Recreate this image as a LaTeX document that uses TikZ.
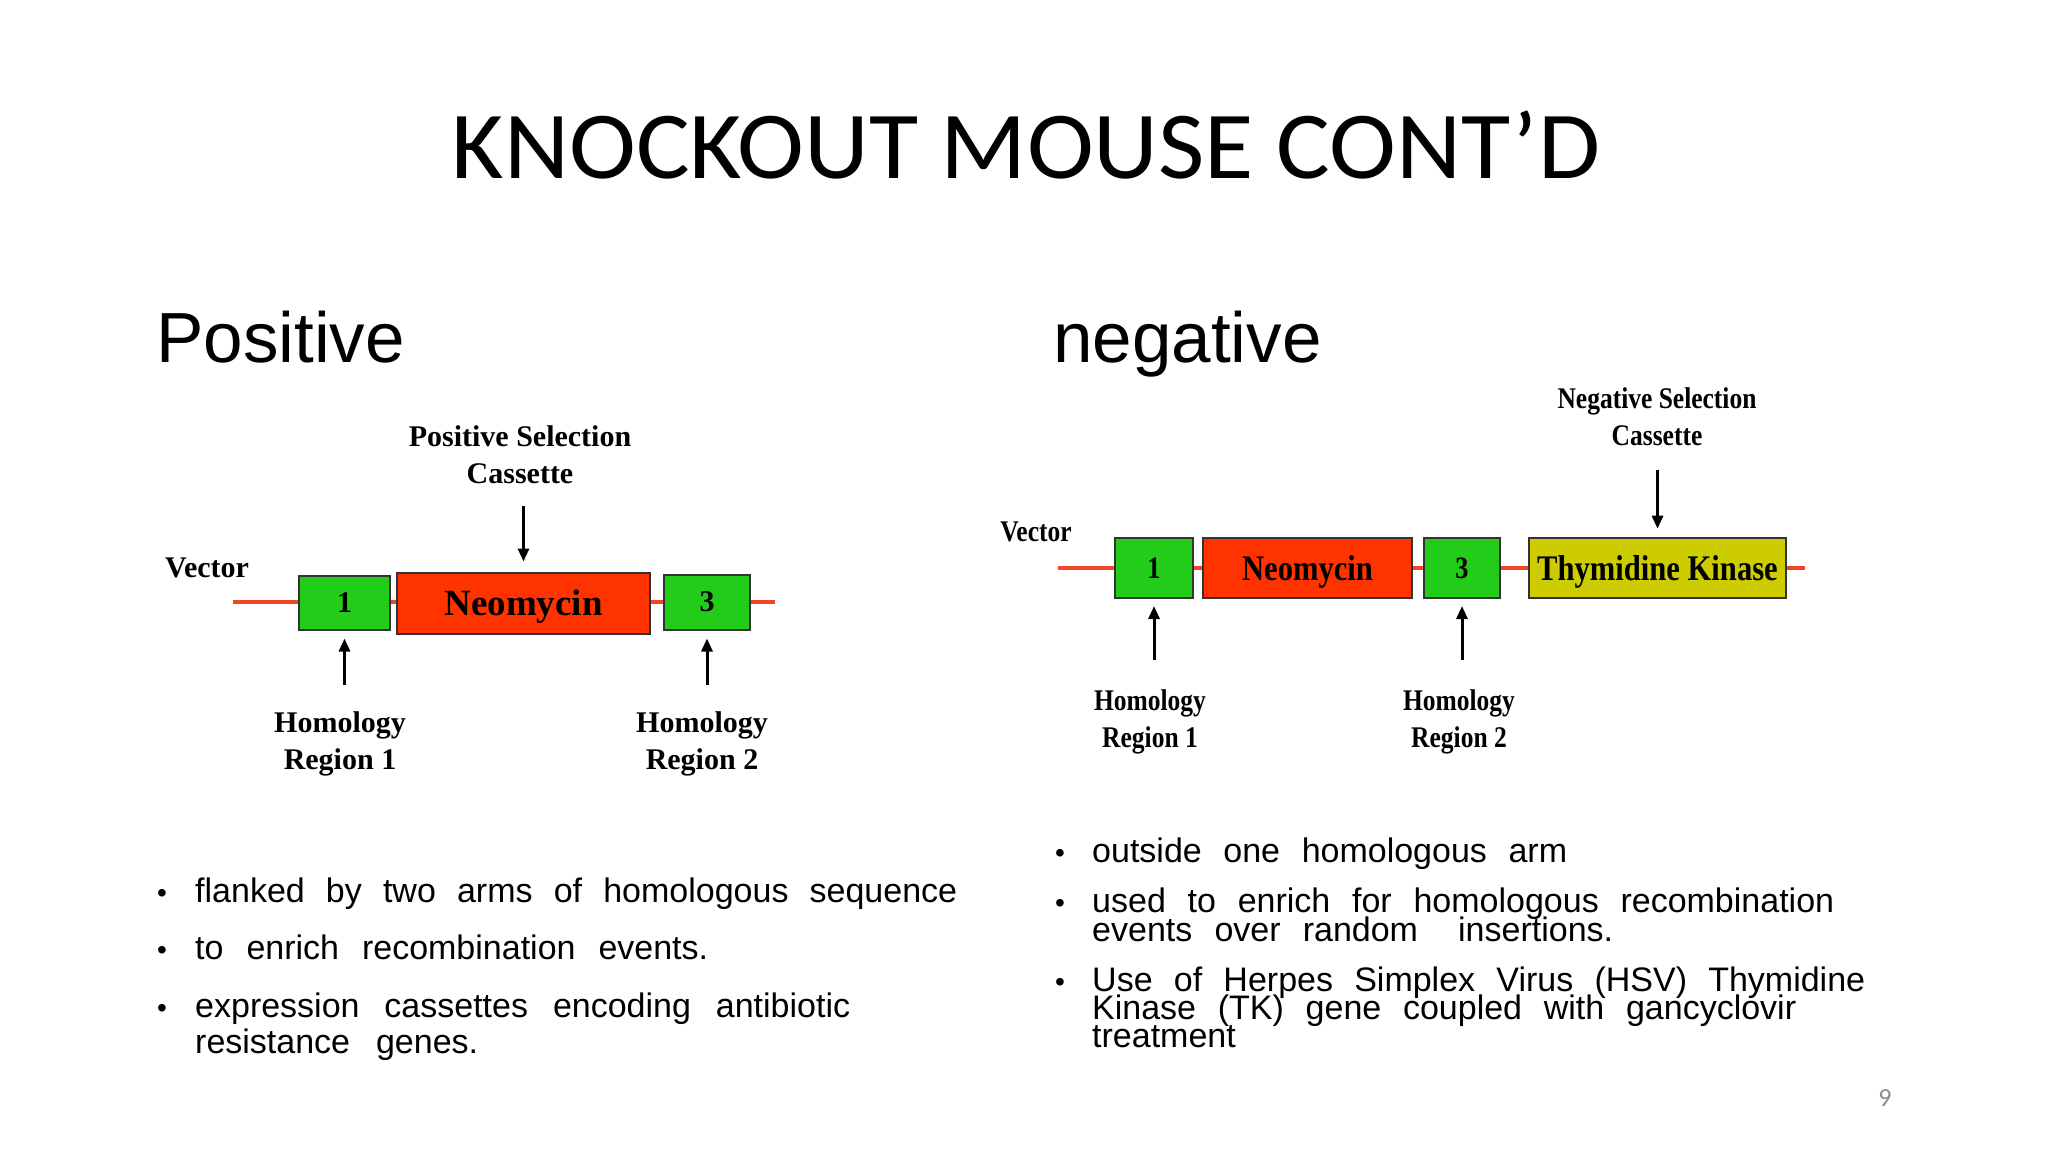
\documentclass[tikz,border=0pt]{standalone}
\usepackage{fontspec}
\setmainfont{Liberation Sans}
\newfontfamily\titlefont[FakeStretch=1.05]{Carlito}
\newfontfamily\pagefont{Carlito}
\newfontfamily\dgfont{Liberation Serif}
\newfontfamily\dgfontc[FakeStretch=0.85]{Liberation Serif}
\usetikzlibrary{arrows.meta}
\definecolor{boxgreen}{RGB}{34,204,24}
\definecolor{neored}{RGB}{255,51,0}
\definecolor{tkyellow}{RGB}{204,204,0}
\definecolor{vecred}{RGB}{240,70,40}
\definecolor{pagegray}{RGB}{140,140,140}
\tikzset{
  vecline/.style={draw=vecred, line width=3.5pt},
  gbox/.style={draw=black!80, line width=2pt, fill=boxgreen, inner sep=0pt},
  rbox/.style={draw=black!80, line width=2pt, fill=neored, inner sep=0pt},
  ybox/.style={draw=black!80, line width=2pt, fill=tkyellow, inner sep=0pt},
  lblL/.style={font=\dgfont\bfseries\fontsize{30}{37}\selectfont, align=center, inner sep=0pt},
  lblR/.style={font=\dgfontc\bfseries\fontsize{30}{37}\selectfont, align=center, inner sep=0pt},
  arr/.style={line width=3pt, -{Triangle[length=13pt,width=11pt]}},
  bodytxt/.style={font=\fontsize{34}{40}\selectfont, anchor=base west, inner sep=0pt},
  bul/.style={font=\fontsize{28}{34}\selectfont, anchor=base, inner sep=0pt},
}
\begin{document}
\begin{tikzpicture}[x=1pt,y=-1pt]
\useasboundingbox (0,0) rectangle (2048,1152);
\fill[white] (0,0) rectangle (2048,1152);

% title and headings
\node[font=\titlefont\fontsize{96}{110}\selectfont, anchor=base, inner sep=0pt] (title) at (1026,178) {KNOCKOUT MOUSE CONT’D};
\node[font=\fontsize{71}{80}\selectfont, anchor=base west, inner sep=0pt] (poshead) at (156,362) {Positive};
\node[font=\fontsize{71}{80}\selectfont, anchor=base west, inner sep=0pt] (neghead) at (1053,362) {negative};

% ---------- left diagram ----------
\coordinate (vl1) at (233,602);
\coordinate (vl2) at (775,602);
\draw[vecline] (vl1) -- (vl2);
\node[gbox, minimum width=91pt, minimum height=54pt] (b1L) at (344.5,602.5) {};
\node[rbox, minimum width=253pt, minimum height=61pt] (neoL) at (523.5,603) {};
\node[gbox, minimum width=86pt, minimum height=55pt] (b3L) at (707,602) {};
\node[font=\dgfont\bfseries\fontsize{30}{36}\selectfont, inner sep=0pt] (n1L) at (b1L) {1};
\node[font=\dgfont\bfseries\fontsize{37}{44}\selectfont, inner sep=0pt] (tneoL) at ([yshift=-4pt]neoL.center) {Neomycin};
\node[font=\dgfont\bfseries\fontsize{30}{36}\selectfont, inner sep=0pt] (n3L) at (b3L) {3};
\node[lblL] (vecL) at (207,568) {Vector};
\node[lblL] (posL) at (520,455) {Positive Selection\\Cassette};
\node[lblL] (homL1) at (340,744) {Homology\\Region 1};
\node[lblL] (homL2) at (702,744) {Homology\\Region 2};
\draw[arr, shorten <=22pt, shorten >=10pt] (posL.south -| neoL.north) -- (neoL.north);
\draw[arr, shorten <=27pt, shorten >=8pt] (homL1.north -| b1L.south) -- (b1L.south);
\draw[arr, shorten <=27pt, shorten >=8pt] (homL2.north -| b3L.south) -- (b3L.south);

% ---------- right diagram ----------
\coordinate (vr1) at (1058,568);
\coordinate (vr2) at (1805,568);
\draw[vecline] (vr1) -- (vr2);
\node[gbox, minimum width=78pt, minimum height=60pt] (b1R) at (1154,568) {};
\node[rbox, minimum width=209pt, minimum height=60pt] (neoR) at (1307.5,568) {};
\node[gbox, minimum width=76pt, minimum height=60pt] (b3R) at (1462,568) {};
\node[ybox, minimum width=257pt, minimum height=60pt] (tkR) at (1657.5,567.7) {};
\node[font=\dgfontc\bfseries\fontsize{31}{36}\selectfont, inner sep=0pt] (n1R) at (b1R) {1};
\node[font=\dgfontc\bfseries\fontsize{36}{42}\selectfont, inner sep=0pt] (tneoR) at ([yshift=-4pt]neoR.center) {Neomycin};
\node[font=\dgfontc\bfseries\fontsize{31}{36}\selectfont, inner sep=0pt] (n3R) at (b3R) {3};
\node[font=\dgfontc\bfseries\fontsize{36}{42}\selectfont, inner sep=0pt] (ttkR) at ([yshift=-4pt]tkR.center) {Thymidine Kinase};
\node[lblR] (vecR) at (1036,532) {Vector};
\node[lblR] (negR) at (1657,417) {Negative Selection\\Cassette};
\node[lblR] (homR1) at (1150,722) {Homology\\Region 1};
\node[lblR] (homR2) at (1459,722) {Homology\\Region 2};
\draw[arr, shorten <=24pt, shorten >=8pt] (negR.south -| tkR.north) -- (tkR.north);
\draw[arr, shorten <=30pt, shorten >=7pt] (homR1.north -| b1R.south) -- (b1R.south);
\draw[arr, shorten <=30pt, shorten >=7pt] (homR2.north -| b3R.south) -- (b3R.south);

% ---------- left bullets ----------
\node[bul] (bl1) at (162,902) {•};
\node[bodytxt] (tl1) at (195,902) {\makebox[762pt][s]{flanked by two arms of homologous sequence}};
\node[bul] (bl2) at (162,959) {•};
\node[bodytxt] (tl2) at (195,959) {\makebox[513pt][s]{to enrich recombination events.}};
\node[bul] (bl3) at (162,1017) {•};
\node[bodytxt] (tl3) at (195,1017) {\makebox[655pt][s]{expression cassettes encoding antibiotic}};
\node[bodytxt] (tl4) at (195,1053) {\makebox[283pt][s]{resistance genes.}};

% ---------- right bullets ----------
\node[bul] (br1) at (1060,862) {•};
\node[bodytxt] (tr1) at (1092,862) {\makebox[475pt][s]{outside one homologous arm}};
\node[bul] (br2) at (1060,912) {•};
\node[bodytxt] (tr2) at (1092,912) {\makebox[742pt][s]{used to enrich for homologous recombination}};
\node[bodytxt] (tr3) at (1092,941) {\makebox[521pt][s]{events over random\hspace{18pt} insertions.}};
\node[bul] (br4) at (1060,991) {•};
\node[bodytxt] (tr4) at (1092,991) {\makebox[773pt][s]{Use of Herpes Simplex Virus (HSV) Thymidine}};
\node[bodytxt] (tr5) at (1092,1019) {\makebox[704pt][s]{Kinase (TK) gene coupled with gancyclovir}};
\node[bodytxt] (tr6) at (1092,1047) {treatment};

% page number
\node[font=\pagefont\fontsize{26}{30}\selectfont, text=pagegray, inner sep=0pt] (pnum) at (1885,1098) {9};
\end{tikzpicture}
\end{document}
